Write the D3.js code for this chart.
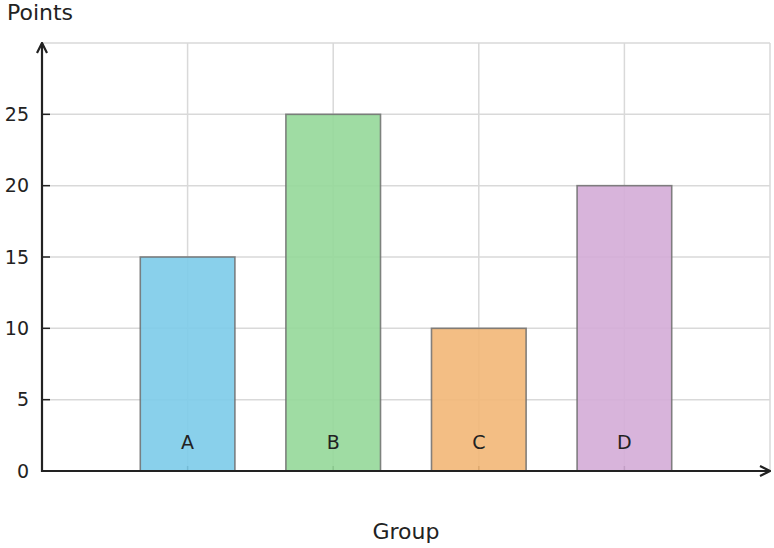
<!DOCTYPE html>
<html>
<head>
<meta charset="utf-8">
<script src="https://cdn.jsdelivr.net/npm/d3@7"></script>
<style>
  body { margin: 0; background: #fff; }
  text { font-family: "DejaVu Sans", sans-serif; fill: #222; }
</style>
</head>
<body>
<div id="canvas"></div>
<script>
const groups = ["A", "B", "C", "D"];
const points = [15, 25, 10, 20];
const barColors = ["#7ccbe9", "#95d899", "#f2b777", "#d4acd7"];
const yTicks = [0, 5, 10, 15, 20, 25];

let width = 774, height = 548;
let margin = { top: 43, right: 4, bottom: 77, left: 42 };

let svg = d3.select("#canvas")
  .append("svg")
  .attr("width", width)
  .attr("height", height);

// x is a position scale so the axis can run past the outer bars
let x = d3.scaleLinear()
  .domain([-1, groups.length])
  .range([margin.left, width - margin.right]);

let y = d3.scaleLinear()
  .domain([0, 30])
  .range([height - margin.bottom, margin.top]);

let barW = 0.65 * (x(1) - x(0));

// grid
svg.append("g")
  .selectAll("line.hgrid")
  .data(yTicks.concat([30]))
  .enter()
  .append("line")
  .attr("x1", x.range()[0])
  .attr("x2", x.range()[1])
  .attr("y1", d => y(d))
  .attr("y2", d => y(d))
  .attr("stroke", "#d9d9d9")
  .attr("stroke-width", 1.5);

svg.append("g")
  .selectAll("line.vgrid")
  .data(groups.map((g, i) => i).concat([groups.length]))
  .enter()
  .append("line")
  .attr("x1", d => x(d))
  .attr("x2", d => x(d))
  .attr("y1", y(0))
  .attr("y2", y(30))
  .attr("stroke", "#d9d9d9")
  .attr("stroke-width", 1.5);

// x ticks (inward, behind bars)
svg.append("g")
  .selectAll("line")
  .data(groups)
  .enter()
  .append("line")
  .attr("x1", (d, i) => x(i))
  .attr("x2", (d, i) => x(i))
  .attr("y1", y(0))
  .attr("y2", y(0) - 5)
  .attr("stroke", "#222")
  .attr("stroke-width", 1.5);

// bars
svg.append("g")
  .selectAll("rect")
  .data(points)
  .enter()
  .append("rect")
  .attr("x", (d, i) => x(i) - barW / 2)
  .attr("y", d => y(d))
  .attr("width", barW)
  .attr("height", d => y(0) - y(d))
  .attr("fill", (d, i) => barColors[i])
  .attr("fill-opacity", 0.9)
  .attr("stroke", "#6e6e6e")
  .attr("stroke-opacity", 0.85)
  .attr("stroke-width", 1.6);

// labels inside bars
svg.append("g")
  .selectAll("text")
  .data(groups)
  .enter()
  .append("text")
  .attr("x", (d, i) => x(i))
  .attr("y", y(2))
  .attr("dy", "0.35em")
  .attr("text-anchor", "middle")
  .style("font-size", "19px")
  .text(d => d);

// y ticks
let yAxis = svg.append("g");
yAxis.selectAll("line")
  .data(yTicks)
  .enter()
  .append("line")
  .attr("x1", margin.left)
  .attr("x2", margin.left + 8)
  .attr("y1", d => y(d))
  .attr("y2", d => y(d))
  .attr("stroke", "#222")
  .attr("stroke-width", 1.5);

yAxis.selectAll("text")
  .data(yTicks)
  .enter()
  .append("text")
  .attr("x", margin.left - 13)
  .attr("y", d => y(d))
  .attr("dy", "0.35em")
  .attr("text-anchor", "end")
  .style("font-size", "19px")
  .text(d => d);

// axis lines with arrows
let defs = svg.append("defs");
defs.append("marker")
  .attr("id", "arrow")
  .attr("viewBox", "0 0 12 12")
  .attr("refX", 11)
  .attr("refY", 6)
  .attr("markerWidth", 12)
  .attr("markerHeight", 12)
  .attr("markerUnits", "userSpaceOnUse")
  .attr("orient", "auto")
  .append("path")
  .attr("d", "M1,1 L11,6 L1,11")
  .attr("fill", "none")
  .attr("stroke", "#222")
  .attr("stroke-width", 2.2);

svg.append("line")
  .attr("x1", margin.left)
  .attr("x2", width - margin.right)
  .attr("y1", y(0))
  .attr("y2", y(0))
  .attr("stroke", "#222")
  .attr("stroke-width", 2.2)
  .attr("marker-end", "url(#arrow)");

svg.append("line")
  .attr("x1", margin.left)
  .attr("x2", margin.left)
  .attr("y1", y(0) + 1)
  .attr("y2", y(30))
  .attr("stroke", "#222")
  .attr("stroke-width", 2.2)
  .attr("marker-end", "url(#arrow)");

// axis titles
svg.append("text")
  .attr("x", 7)
  .attr("y", 20)
  .style("font-size", "22px")
  .text("Points");

svg.append("text")
  .attr("x", 406)
  .attr("y", 539)
  .attr("text-anchor", "middle")
  .style("font-size", "22px")
  .text("Group");
</script>
</body>
</html>
